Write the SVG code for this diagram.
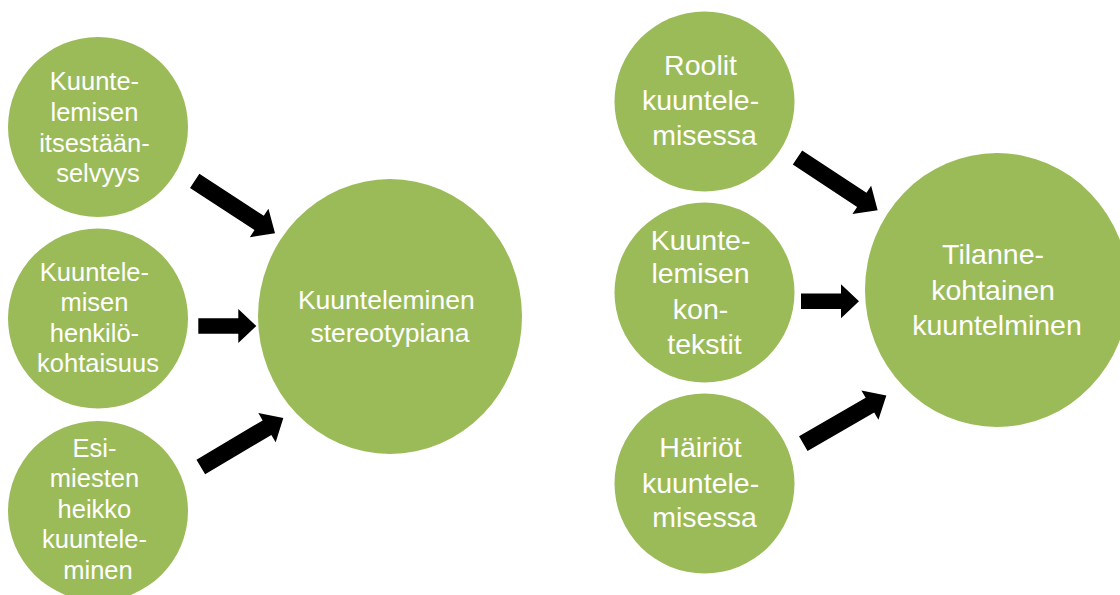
<svg xmlns="http://www.w3.org/2000/svg" width="1120" height="595" viewBox="0 0 1120 595">
  <style>
    .node { fill: #9BBB59; }
    .lbl { font-family: "Liberation Sans", Arial, sans-serif; fill: #FFFFFF; text-anchor: middle; }
    .s { font-size: 25.5px; }
    .m { font-size: 26.5px; }
    .r { font-size: 28.5px; }
    .arrow { fill: #000000; }
  </style>
  <defs>
    <polygon id="diag" points="0,-8.5 77,-8.5 77,-17 96,0 77,17 77,8.5 0,8.5"/>
    <polygon id="horiz" points="0,-7.8 40,-7.8 40,-17 58,0 40,17 40,7.8 0,7.8"/>
  </defs>
  <rect width="1120" height="595" fill="#FFFFFF"/>

  <g id="connectors" class="arrow">
    <use href="#diag" transform="translate(194.7,180.8) rotate(33.2)"/>
    <use href="#horiz" transform="translate(198.3,326)"/>
    <use href="#diag" transform="translate(200.8,467) rotate(-30.7)"/>
    <use href="#diag" transform="translate(797.5,157.5) rotate(33.4)"/>
    <use href="#horiz" transform="translate(801,301.3)"/>
    <use href="#diag" transform="translate(803.3,443.7) rotate(-30.1)"/>
  </g>

  <g id="n-itsestaanselvyys">
    <circle class="node" cx="98" cy="127" r="90"/>
    <text class="lbl s" x="98">
      <tspan x="98" y="89.5">Kuunte-</tspan>
      <tspan x="98" y="120.5">lemisen</tspan>
      <tspan x="98" y="151.5">itsestään-</tspan>
      <tspan x="98" y="182">selvyys</tspan>
    </text>
  </g>

  <g id="n-henkilokohtaisuus">
    <circle class="node" cx="98" cy="318.5" r="90"/>
    <text class="lbl s">
      <tspan x="98" y="280.5">Kuuntele-</tspan>
      <tspan x="98" y="311">misen</tspan>
      <tspan x="98" y="341.5">henkilö-</tspan>
      <tspan x="98" y="372">kohtaisuus</tspan>
    </text>
  </g>

  <g id="n-esimiesten">
    <circle class="node" cx="98" cy="511" r="90"/>
    <text class="lbl s">
      <tspan x="98" y="456.5">Esi-</tspan>
      <tspan x="98" y="487">miesten</tspan>
      <tspan x="98" y="517.5">heikko</tspan>
      <tspan x="98" y="548">kuuntele-</tspan>
      <tspan x="98" y="578.5">minen</tspan>
    </text>
  </g>

  <g id="n-stereotypiana">
    <ellipse class="node" cx="390" cy="316.5" rx="132" ry="137.5"/>
    <text class="lbl m">
      <tspan x="390" y="308.5">Kuunteleminen</tspan>
      <tspan x="390" y="341.5">stereotypiana</tspan>
    </text>
  </g>

  <g id="n-roolit">
    <circle class="node" cx="704.5" cy="101.5" r="90"/>
    <text class="lbl r">
      <tspan x="704.5" y="75">Roolit</tspan>
      <tspan x="704.5" y="110">kuuntele-</tspan>
      <tspan x="704.5" y="144.5">misessa</tspan>
    </text>
  </g>

  <g id="n-kontekstit">
    <circle class="node" cx="704.5" cy="292.5" r="90"/>
    <text class="lbl r">
      <tspan x="704.5" y="250">Kuunte-</tspan>
      <tspan x="704.5" y="283">lemisen</tspan>
      <tspan x="704.5" y="318.5">kon-</tspan>
      <tspan x="704.5" y="353.5">tekstit</tspan>
    </text>
  </g>

  <g id="n-hairiot">
    <circle class="node" cx="704.5" cy="483.5" r="90"/>
    <text class="lbl r">
      <tspan x="704.5" y="457">Häiriöt</tspan>
      <tspan x="704.5" y="492.5">kuuntele-</tspan>
      <tspan x="704.5" y="527">misessa</tspan>
    </text>
  </g>

  <g id="n-tilannekohtainen">
    <ellipse class="node" cx="997" cy="290" rx="132" ry="137"/>
    <text class="lbl r">
      <tspan x="997" y="263.5">Tilanne-</tspan>
      <tspan x="997" y="299.5">kohtainen</tspan>
      <tspan x="997" y="335">kuuntelminen</tspan>
    </text>
  </g>
</svg>
